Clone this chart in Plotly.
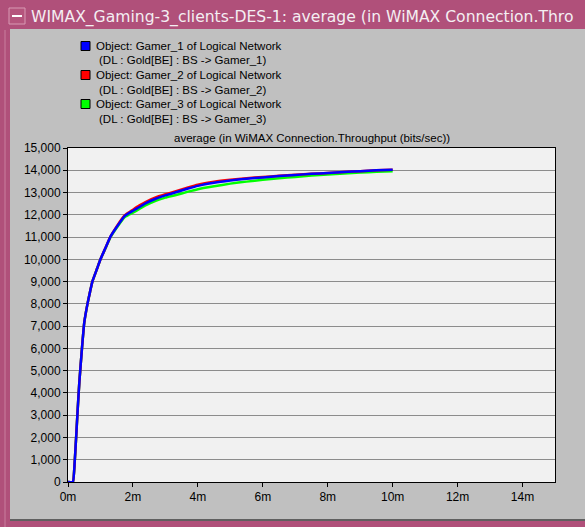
import plotly.graph_objects as go

# time in minutes
t = [0, 0.15, 0.2, 0.25, 0.3, 0.35, 0.43, 0.5, 0.6, 0.68, 0.75,
     0.9, 1.0, 1.15, 1.3, 1.5, 1.75, 2.0, 2.2, 2.4, 2.7,
     3.0, 3.3, 3.7, 4.0, 4.5, 5.0, 5.5, 6.0, 6.5, 7.0,
     7.5, 8.0, 8.5, 9.0, 9.5, 10.0]

gamer1 = [0, 0, 750, 2000, 3300, 4500, 6000, 7150, 8000, 8550, 9000,
          9600, 10000, 10500, 11000, 11450, 11950, 12180, 12350, 12520, 12720,
          12870, 13000, 13180, 13300, 13440, 13540, 13620, 13680, 13740, 13790,
          13840, 13880, 13920, 13960, 14000, 14020]

gamer2 = [0, 0, 750, 2000, 3300, 4500, 6000, 7150, 8000, 8550, 9000,
          9600, 10000, 10500, 11000, 11480, 11980, 12230, 12420, 12580, 12780,
          12920, 13050, 13230, 13350, 13480, 13570, 13640, 13700, 13750, 13800,
          13840, 13880, 13920, 13960, 14000, 14020]

gamer3 = [0, 0, 750, 2000, 3300, 4500, 6000, 7150, 8000, 8550, 9000,
          9600, 10000, 10480, 10970, 11420, 11900, 12100, 12260, 12430, 12630,
          12770, 12880, 13040, 13150, 13280, 13400, 13490, 13570, 13640, 13700,
          13760, 13810, 13860, 13900, 13930, 13960]

series_names = ["Object: Gamer_1 of Logical Network", "Object: Gamer_2 of Logical Network",
                "Object: Gamer_3 of Logical Network"]
series_sub = ["(DL : Gold[BE] : BS -> Gamer_1)", "(DL : Gold[BE] : BS -> Gamer_2)",
              "(DL : Gold[BE] : BS -> Gamer_3)"]
colors = ["#0000ff", "#ff0000", "#00ff00"]

x_ticks = [0, 2, 4, 6, 8, 10, 12, 14]
y_ticks = list(range(0, 15001, 1000))

window_title = "WIMAX_Gaming-3_clients-DES-1: average (in WiMAX Connection.Thro"
plot_title = "average (in WiMAX Connection.Throughput (bits/sec))"

W, H = 585, 527
L, R, T, B = 68, 555, 148, 482


def px(xp):
    return (xp - L) / (R - L)


def py(yp):
    return (B - yp) / (B - T)


fig = go.Figure()
for vals, name, col in [(gamer3, series_names[2], colors[2]),
                        (gamer2, series_names[1], colors[1]),
                        (gamer1, series_names[0], colors[0])]:
    fig.add_trace(go.Scatter(x=t, y=vals, mode="lines", name=name,
                             line=dict(color=col, width=2.5, shape="spline", smoothing=0.4),
                             showlegend=False))

shapes = []
# gray panel
shapes.append(dict(type="rect", xref="paper", yref="paper", layer="below",
                   x0=px(10), x1=px(590), y0=py(521), y1=py(29),
                   fillcolor="#c0c0c0", line=dict(width=0)))
# plot area background
shapes.append(dict(type="rect", xref="paper", yref="paper", layer="below",
                   x0=0, x1=1, y0=0, y1=1,
                   fillcolor="#f1f1f1", line=dict(width=0)))
# bottom dark border
shapes.append(dict(type="line", xref="paper", yref="paper", layer="below",
                   x0=px(10), x1=px(590), y0=py(520), y1=py(520),
                   line=dict(color="#404040", width=1.5)))
# left lighter border stripe
shapes.append(dict(type="line", xref="paper", yref="paper", layer="below",
                   x0=px(5), x1=px(5), y0=py(527), y1=py(30),
                   line=dict(color="#c97f9e", width=1)))
# title bar icon
shapes.append(dict(type="rect", xref="paper", yref="paper",
                   x0=px(9), x1=px(25), y0=py(24), y1=py(8),
                   fillcolor="#b5557d", line=dict(color="#d89ab4", width=1)))
shapes.append(dict(type="line", xref="paper", yref="paper",
                   x0=px(12), x1=px(22), y0=py(16), y1=py(16),
                   line=dict(color="#ffffff", width=2)))

annotations = [dict(xref="paper", yref="paper", x=px(29), y=py(17), xanchor="left", yanchor="middle",
                    text=window_title, showarrow=False,
                    font=dict(family="DejaVu Sans", size=15.6, color="#f4eef2")),
               dict(xref="paper", yref="paper", x=0.5, y=py(138), xanchor="center", yanchor="middle",
                    text=plot_title, showarrow=False,
                    font=dict(family="Liberation Sans", size=11.5, color="#000000"))]

# manual legend
leg_y = [46, 75, 104]
for i in range(3):
    yc = leg_y[i]
    shapes.append(dict(type="rect", xref="paper", yref="paper",
                       x0=px(81), x1=px(90), y0=py(yc + 4.5), y1=py(yc - 4.5),
                       fillcolor=colors[i], line=dict(color="#000000", width=1)))
    annotations.append(dict(xref="paper", yref="paper", x=px(94), y=py(yc), xanchor="left",
                            yanchor="middle", text=series_names[i], showarrow=False,
                            font=dict(family="Liberation Sans", size=11.5, color="#000000")))
    annotations.append(dict(xref="paper", yref="paper", x=px(97), y=py(yc + 14.5), xanchor="left",
                            yanchor="middle", text=series_sub[i], showarrow=False,
                            font=dict(family="Liberation Sans", size=11.5, color="#000000")))

fig.update_layout(
    width=W, height=H,
    margin=dict(l=L, r=W - R, t=T, b=H - B, pad=0),
    paper_bgcolor="#b0507a",
    plot_bgcolor="#f1f1f1",
    font=dict(family="Liberation Sans", size=12, color="#000000"),
    shapes=shapes,
    annotations=annotations,
    xaxis=dict(range=[0, 15], tickvals=x_ticks, ticktext=[f"{v}m" for v in x_ticks],
               showgrid=False, zeroline=False, showline=True, linecolor="#000000", linewidth=1,
               mirror=True, ticks="outside", ticklen=4, tickcolor="#000000",
               tickfont=dict(size=12)),
    yaxis=dict(range=[0, 15000], tickvals=y_ticks, tickformat=",d",
               showgrid=True, gridcolor="#8c8c8c", gridwidth=1, zeroline=False,
               showline=True, linecolor="#000000", linewidth=1, mirror=True,
               ticks="outside", ticklen=4, tickcolor="#000000", tickfont=dict(size=12)),
)

fig.write_html("out.html")
